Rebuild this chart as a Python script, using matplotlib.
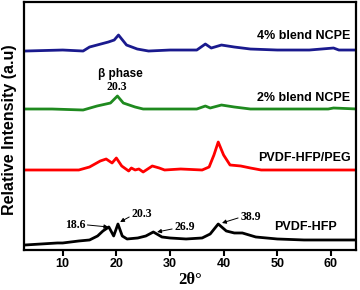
import matplotlib
matplotlib.use("Agg")
from matplotlib import pyplot as plt

# 2theta positions and stacked intensities (a.u., offsets included)
x_pvdf = [3, 6, 9, 10, 13, 15, 16.5, 17.5, 18.6, 19.5, 20.3, 21.1, 22, 24, 25.5, 26.9,
          28.5, 30, 33, 36, 37.5, 39, 40.5, 42, 43.5, 46, 50, 55, 60, 65]
y_pvdf = [5, 6, 7, 7, 9, 10, 14, 19, 23, 14, 26, 14, 11, 12, 14, 18,
          13, 12, 11, 12, 16, 26, 19, 17, 17, 13, 11, 10, 10, 10]

x_peg = [3, 8, 13, 15, 17, 18.1, 19.2, 20.0, 21, 22.3, 22.8, 23.5, 24.2, 25, 26.7,
         28, 29, 32, 36, 37.3, 38.2, 39, 40, 41.2, 43.2, 45, 47, 55, 65]
y_peg = [80, 80, 80, 83, 89, 91, 87, 92, 84, 79, 82, 80, 81, 78, 84,
         82, 80, 81, 80, 83, 95, 108, 95, 85, 84, 82, 80, 80, 80]

x_ncpe2 = [3, 8, 13.8, 16.4, 18.9, 20.2, 21.3, 22.4, 23.5, 25, 30, 35, 36.6, 37.5,
           39.6, 42, 45, 55, 59.5, 60.5, 65]
y_ncpe2 = [141, 141, 140, 144, 147, 154, 147, 145, 143, 141, 141, 141, 144, 142,
           145, 143, 141, 141, 141, 142, 141]

x_ncpe4 = [3, 10, 13.8, 15, 18.5, 19.6, 20.4, 21.9, 23.9, 26, 30, 35, 36.6, 37.7,
           39.6, 42, 45, 50, 56, 60.5, 61.5, 65]
y_ncpe4 = [199, 200, 199, 203, 208, 210, 215, 205, 201, 199, 200, 200, 206, 202,
           205, 203, 201, 200, 200, 202, 200, 200]

curve_names = ["PVDF-HFP", "PVDF-HFP/PEG", "2% blend NCPE", "4% blend NCPE"]
curve_colors = ["black", "#ff0000", "#1f8a1f", "#1a1a8e"]
name_pos = [(61.2, 23), (63.8, 92), (63.6, 152), (63.6, 214)]

peak_labels = ["18.6", "20.3", "26.9", "38.9"]
peak_text = [(12.3, 25), (24.8, 36), (32.8, 23), (45.0, 33)]
arrow_tail = [(14.6, 25), (22.4, 33), (30.4, 21), (42.7, 32)]
arrow_head = [(18.5, 23), (20.7, 28), (27.6, 18), (39.7, 27)]

fig = plt.figure(figsize=(3.6, 2.9), dpi=100)
ax = fig.add_axes([0.067, 0.138, 0.922, 0.855])

series = [(x_pvdf, y_pvdf), (x_peg, y_peg), (x_ncpe2, y_ncpe2), (x_ncpe4, y_ncpe4)]
for (xs, ys), c in zip(series, curve_colors):
    ax.plot(xs, ys, color=c, lw=2.0, solid_joinstyle="round")

for name, (tx, ty) in zip(curve_names, name_pos):
    ax.text(tx, ty, name, ha="right", va="center", fontsize=9,
            fontweight="bold", family="Liberation Sans")

for lab, (tx, ty) in zip(peak_labels, peak_text):
    ax.text(tx, ty, lab, ha="center", va="center", fontsize=8.5,
            fontweight="bold", family="Liberation Serif")
for tail, head in zip(arrow_tail, arrow_head):
    ax.annotate("", xy=head, xytext=tail,
                arrowprops=dict(arrowstyle="-|>", lw=0.7, color="black",
                                mutation_scale=6, shrinkA=0, shrinkB=0))

ax.text(20.8, 176, "β phase", ha="center", va="center", fontsize=8.5,
        fontweight="bold", family="Liberation Sans")
ax.text(20.0, 163, "20.3", ha="center", va="center", fontsize=8.5,
        fontweight="bold", family="Liberation Serif")

ax.set_xlim(2.8, 64.7)
ax.set_ylim(0, 248)
ax.set_yticks([])
ax.set_xticks([10, 20, 30, 40, 50, 60])
ax.tick_params(axis="x", direction="out", length=4, width=1.5, pad=2)
for t in ax.get_xticklabels():
    t.set_fontweight("bold")
    t.set_fontsize(9)
    t.set_family("Liberation Sans")
for s in ax.spines.values():
    s.set_linewidth(1.6)

ax.set_xlabel("2θ°", fontsize=12, fontweight="bold", family="Liberation Serif", labelpad=1)
ax.set_ylabel("Relative Intensity (a.u)", fontsize=11.5, fontweight="bold",
              family="Liberation Sans")
ax.yaxis.set_label_coords(-0.022, 0.484)

fig.savefig("out.png", dpi=100)
